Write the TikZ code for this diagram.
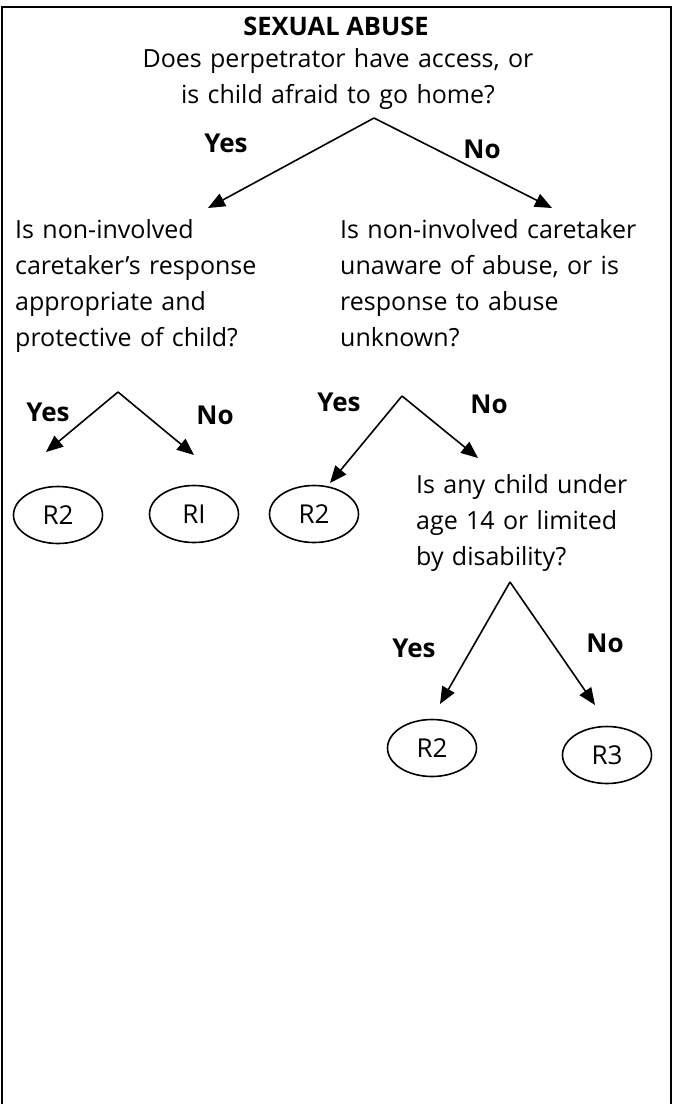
\documentclass[tikz,border=0pt]{standalone}
\usepackage{fontspec}
\setmainfont{Open Sans}
\usetikzlibrary{arrows.meta,shapes.geometric}

\tikzstyle{title} = [inner sep=0pt, anchor=base, font=\bfseries\fontsize{25.5}{30}\selectfont]
\tikzstyle{question} = [text width=320pt, align=left, anchor=base west, inner sep=0pt, font=\fontsize{25}{36}\selectfont]
\tikzstyle{answer} = [inner sep=0pt, font=\bfseries\fontsize{26}{30}\selectfont]
\tikzstyle{result} = [ellipse, draw, line width=1.6pt, minimum width=89pt, minimum height=57pt, inner sep=0pt, font=\fontsize{26}{30}\selectfont]
\tikzstyle{branch} = [line width=1.6pt, -{Triangle[length=17pt,width=14pt]}]

\begin{document}
\begin{tikzpicture}[x=1pt, y=-1pt]
\useasboundingbox (0,0) rectangle (678,1104);
\draw[line width=2.2pt] (2,1104) -- (2,7) -- (671,7) -- (671,1104);

\node[title] (head) at (336,35) {SEXUAL ABUSE};
\node[question, text width=520pt, align=center, anchor=base] (access) at (338,67)
    {Does perpetrator have access, or\\ is child afraid to go home?};

\coordinate (access-fork) at (374,118);
\coordinate (access-yes) at (208,208);
\coordinate (access-no) at (552,208);
\draw[branch] (access-fork) -- (access-yes);
\draw[branch] (access-fork) -- (access-no);
\node[answer] (access-yes-label) at (226,143) {Yes};
\node[answer] (access-no-label) at (482,149) {No};

\node[question] (protective) at (15,238)
    {Is non-involved\\ caretaker’s response\\ appropriate and\\ protective of child?};
\node[question] (unaware) at (340,238)
    {Is non-involved caretaker\\ unaware of abuse, or is\\ response to abuse\\ unknown?};

\coordinate (protective-fork) at (118,392);
\coordinate (protective-yes) at (46,452);
\coordinate (protective-no) at (194,455);
\draw[branch] (protective-fork) -- (protective-yes);
\draw[branch] (protective-fork) -- (protective-no);
\node[answer] (protective-yes-label) at (48,412) {Yes};
\node[answer] (protective-no-label) at (215,415) {No};
\node[result] (protective-r2) at (58,515) {R2};
\node[result] (protective-r1) at (194,514) {RI};

\coordinate (unaware-fork) at (402,396);
\coordinate (unaware-yes) at (330,483);
\coordinate (unaware-no) at (478,458);
\draw[branch] (unaware-fork) -- (unaware-yes);
\draw[branch] (unaware-fork) -- (unaware-no);
\node[answer] (unaware-yes-label) at (339,402) {Yes};
\node[answer] (unaware-no-label) at (489,404) {No};
\node[result] (unaware-r2) at (314,514) {R2};

\node[question, text width=250pt] (disabled) at (416,493)
    {Is any child under\\ age 14 or limited\\ by disability?};

\coordinate (disabled-fork) at (510,582);
\coordinate (disabled-yes) at (440,704);
\coordinate (disabled-no) at (595,705);
\draw[branch] (disabled-fork) -- (disabled-yes);
\draw[branch] (disabled-fork) -- (disabled-no);
\node[answer] (disabled-yes-label) at (414,648) {Yes};
\node[answer] (disabled-no-label) at (605,643) {No};
\node[result] (disabled-r2) at (432,748) {R2};
\node[result] (disabled-r3) at (607,755) {R3};
\end{tikzpicture}
\end{document}
